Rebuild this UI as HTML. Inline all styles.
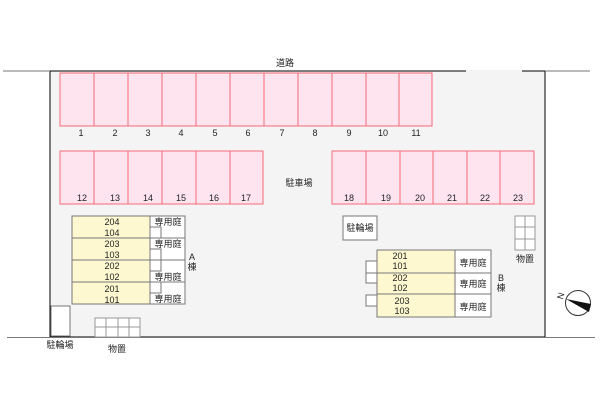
<!DOCTYPE html>
<html><head><meta charset="utf-8"><style>
html,body{margin:0;padding:0;background:#fff;}
svg{display:block;}
text{font-family:"Liberation Sans","Noto Sans CJK JP",sans-serif;font-size:9px;fill:#222;}
</style></head><body>
<svg width="600" height="400" viewBox="0 0 600 400">
<rect x="50" y="71" width="495" height="266" fill="#f4f4f4" stroke="#000" stroke-width="1"/>
<line x1="466" y1="71" x2="522" y2="71" stroke="#f4f4f4" stroke-width="2"/>
<line x1="3" y1="71" x2="50" y2="71" stroke="#777"/>
<line x1="545" y1="71" x2="590" y2="71" stroke="#777"/>
<line x1="7" y1="337.5" x2="595" y2="337.5" stroke="#777"/>
<text x="285" y="66" text-anchor="middle">道路</text>
<g fill="#fde4ee" stroke="#f36a78" stroke-width="1">
<rect x="60" y="73" width="34" height="53"/><rect x="94" y="73" width="34" height="53"/><rect x="128" y="73" width="34" height="53"/><rect x="162" y="73" width="34" height="53"/><rect x="196" y="73" width="34" height="53"/><rect x="230" y="73" width="34" height="53"/><rect x="264" y="73" width="34" height="53"/><rect x="298" y="73" width="34" height="53"/><rect x="332" y="73" width="34" height="53"/><rect x="366" y="73" width="33" height="53"/><rect x="399" y="73" width="33" height="53"/>
<rect x="60" y="151" width="34" height="53"/><rect x="94" y="151" width="34" height="53"/><rect x="128" y="151" width="34" height="53"/><rect x="162" y="151" width="34" height="53"/><rect x="196" y="151" width="34" height="53"/><rect x="230" y="151" width="33" height="53"/>
<rect x="332" y="151" width="34" height="53"/><rect x="366" y="151" width="34" height="53"/><rect x="400" y="151" width="33" height="53"/><rect x="433" y="151" width="34" height="53"/><rect x="467" y="151" width="33" height="53"/><rect x="500" y="151" width="34" height="53"/>
</g>
<g text-anchor="middle">
<text x="81" y="136">1</text><text x="115" y="136">2</text><text x="148" y="136">3</text><text x="181" y="136">4</text><text x="215" y="136">5</text><text x="248" y="136">6</text><text x="282" y="136">7</text><text x="315" y="136">8</text><text x="349" y="136">9</text><text x="383" y="136">10</text><text x="416" y="136">11</text>
<text x="82" y="201">12</text><text x="115" y="201">13</text><text x="148" y="201">14</text><text x="181" y="201">15</text><text x="214" y="201">16</text><text x="246" y="201">17</text>
<text x="349" y="201">18</text><text x="386" y="201">19</text><text x="420" y="201">20</text><text x="452" y="201">21</text><text x="485" y="201">22</text><text x="518" y="201">23</text>
<text x="299" y="186">駐車場</text>
</g>
<!-- A building -->
<g stroke="#777" stroke-width="1">
<rect x="72" y="216" width="78" height="22" fill="#fdf8d0"/><rect x="72" y="238" width="78" height="22" fill="#fdf8d0"/><rect x="72" y="260" width="78" height="22" fill="#fdf8d0"/><rect x="72" y="282" width="78" height="22" fill="#fdf8d0"/>
<rect x="150" y="216" width="35" height="88" fill="#fff"/>
<line x1="150" y1="238" x2="185" y2="238"/><line x1="150" y1="260" x2="185" y2="260"/><line x1="150" y1="282" x2="185" y2="282"/>
<rect x="150" y="227" width="11" height="11" fill="#fff"/><rect x="150" y="249" width="11" height="11" fill="#fff"/><rect x="150" y="260" width="11" height="11" fill="#fff"/><rect x="150" y="282" width="11" height="11" fill="#fff"/>
</g>
<g text-anchor="middle">
<text x="112" y="225">204</text><text x="112" y="236">104</text>
<text x="112" y="247">203</text><text x="112" y="258">103</text>
<text x="112" y="269">202</text><text x="112" y="280">102</text>
<text x="112" y="292">201</text><text x="112" y="303">101</text>
<text x="168" y="225">専用庭</text><text x="168" y="247">専用庭</text><text x="168" y="280">専用庭</text><text x="168" y="302">専用庭</text>
<text x="192" y="260">A</text><text x="192" y="270">棟</text>
</g>
<!-- B building -->
<g stroke="#777" stroke-width="1">
<rect x="377" y="250" width="78" height="23" fill="#fdf8d0"/><rect x="377" y="273" width="78" height="21" fill="#fdf8d0"/><rect x="377" y="294" width="78" height="23" fill="#fdf8d0"/>
<rect x="455" y="250" width="36" height="67" fill="#fff"/><line x1="455" y1="273" x2="491" y2="273"/><line x1="455" y1="294" x2="491" y2="294"/>
<rect x="366" y="261" width="11" height="12" fill="#fff"/><rect x="366" y="273" width="11" height="10" fill="#fff"/><rect x="366" y="295" width="11" height="11" fill="#fff"/>
</g>
<g text-anchor="middle">
<text x="400" y="259">201</text><text x="400" y="269">101</text>
<text x="400" y="281">202</text><text x="400" y="291">102</text>
<text x="402" y="304">203</text><text x="402" y="314">103</text>
<text x="473" y="266">専用庭</text><text x="473" y="287">専用庭</text><text x="473" y="310">専用庭</text>
<text x="501" y="281">B</text><text x="501" y="291">棟</text>
</g>
<!-- bike parking -->
<rect x="343" y="216" width="34" height="24" fill="#fff" stroke="#777"/>
<text x="360" y="231" text-anchor="middle">駐輪場</text>
<rect x="51" y="306" width="19" height="30" fill="#fff" stroke="#777"/>
<text x="60" y="348" text-anchor="middle">駐輪場</text>
<!-- storage -->
<g fill="#fff" stroke="#999">
<rect x="95" y="318" width="45" height="19"/><line x1="106" y1="318" x2="106" y2="337"/><line x1="118" y1="318" x2="118" y2="337"/><line x1="129" y1="318" x2="129" y2="337"/><line x1="95" y1="327" x2="140" y2="327"/>
<rect x="515" y="216" width="20" height="34"/><line x1="525" y1="216" x2="525" y2="250"/><line x1="515" y1="227" x2="535" y2="227"/><line x1="515" y1="239" x2="535" y2="239"/>
</g>
<text x="117" y="352" text-anchor="middle">物置</text>
<text x="525" y="262" text-anchor="middle">物置</text>
<!-- compass -->
<circle cx="578" cy="303" r="12.5" fill="#fff" stroke="#333"/>
<polygon points="566,299 591,304 589,312" fill="#111"/>
<text x="560" y="302" style="font-size:9px" transform="rotate(-75 560 299)">N</text>
</svg>
</body></html>
